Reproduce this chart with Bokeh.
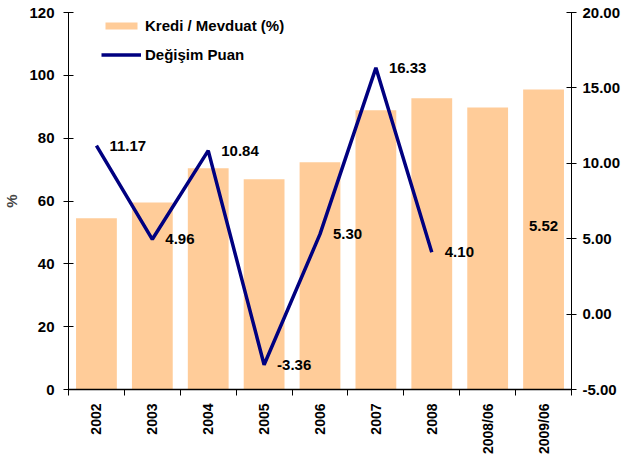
import math
from bokeh.plotting import figure
from bokeh.models import (ColumnDataSource, Range1d, LinearAxis, FixedTicker,
                          Legend, LegendItem, CustomJSTickFormatter)
from bokeh.core.properties import value
from bokeh.embed import file_html
from bokeh.resources import INLINE

categories = ["2002", "2003", "2004", "2005", "2006", "2007", "2008", "2008/06", "2009/06"]
kredi_mevduat = [54.5, 59.5, 70.4, 66.9, 72.3, 88.9, 92.7, 89.8, 95.5]
degisim_puan = [11.17, 4.96, 10.84, -3.36, 5.30, 16.33, 4.10, float("nan"), 5.52]
left_ticks = [0, 20, 40, 60, 80, 100, 120]
right_ticks = [-5, 0, 5, 10, 15, 20]

FONT = "Liberation Sans"
FS = "15px"
BAR = "#FFCC99"
LINE = "#000080"

n = len(categories)
xs = [i + 0.5 for i in range(n)]
labels = ["" if math.isnan(v) else f"{v:.2f}" for v in degisim_puan]
aligns = ["left"] * (n - 1) + ["center"]
xoffs = [13] * (n - 1) + [0]
yoffs = [0] * (n - 1) + [-5]

src = ColumnDataSource(dict(x=xs, bar=kredi_mevduat, pt=degisim_puan,
                            lab=labels, al=aligns, xo=xoffs, yo=yoffs))

p = figure(width=628, height=457, output_backend="svg", toolbar_location=None,
           x_range=Range1d(0, n), y_range=Range1d(0, 120),
           min_border_left=67, min_border_right=57, min_border_top=12,
           min_border_bottom=68)
p.outline_line_color = None
p.xgrid.grid_line_color = None
p.ygrid.grid_line_color = None
p.extra_y_ranges = {"r": Range1d(-5, 20)}

bars = p.vbar(x="x", top="bar", width=0.73, source=src, fill_color=BAR,
              line_color=None)
ln = p.line(x="x", y="pt", source=src, y_range_name="r", line_color=LINE,
            line_width=3.5)
p.text(x="x", y="pt", text="lab", source=src, y_range_name="r",
       text_align="al", text_baseline="middle", x_offset="xo", y_offset="yo",
       text_font=value(FONT), text_font_style="bold", text_font_size=FS,
       text_color="black")

# x axis
xa = p.xaxis[0]
xa.ticker = FixedTicker(ticks=xs, minor_ticks=list(range(n + 1)))
xa.major_label_overrides = {x: c for x, c in zip(xs, categories)}
xa.major_label_orientation = math.pi / 2
xa.major_tick_line_color = None
xa.major_tick_in = 0
xa.major_tick_out = 0
xa.minor_tick_in = 0
xa.minor_tick_out = 6
xa.minor_tick_line_color = "black"
xa.axis_line_color = "black"
xa.axis_line_width = 1.5
xa.major_label_standoff = 8
xa.major_label_text_font = FONT
xa.major_label_text_font_style = "bold"
xa.major_label_text_font_size = "14px"
xa.major_label_text_color = "black"

# left axis
ya = p.yaxis[0]
ya.ticker = FixedTicker(ticks=left_ticks)
ya.major_tick_in = 5
ya.major_tick_out = 5
ya.minor_tick_line_color = None
ya.axis_label = "%"
ya.axis_label_text_font = FONT
ya.axis_label_text_font_style = "bold"
ya.axis_label_text_font_size = FS
ya.axis_label_standoff = 6
ya.major_label_standoff = 9
ya.major_label_text_font = FONT
ya.major_label_text_font_style = "bold"
ya.major_label_text_font_size = FS
ya.major_label_text_color = "black"

# right axis
ra = LinearAxis(y_range_name="r", ticker=FixedTicker(ticks=right_ticks))
ra.formatter = CustomJSTickFormatter(code="return tick.toFixed(2);")
ra.major_tick_in = 5
ra.major_tick_out = 5
ra.minor_tick_line_color = None
ra.major_label_standoff = 6
ra.major_label_text_font = FONT
ra.major_label_text_font_style = "bold"
ra.major_label_text_font_size = FS
ra.major_label_text_color = "black"
p.add_layout(ra, "right")

legend = Legend(items=[LegendItem(label="Kredi / Mevduat (%)", renderers=[bars]),
                       LegendItem(label="Değişim Puan", renderers=[ln])],
                location=(33, 326), orientation="vertical",
                glyph_width=40, glyph_height=9, label_height=9, spacing=12,
                label_standoff=4, padding=0, margin=0,
                border_line_color=None, background_fill_alpha=0,
                label_text_font=FONT, label_text_font_style="bold",
                label_text_font_size=FS, label_text_color="black")
p.add_layout(legend)

open("out.html", "w").write(file_html(p, INLINE))
